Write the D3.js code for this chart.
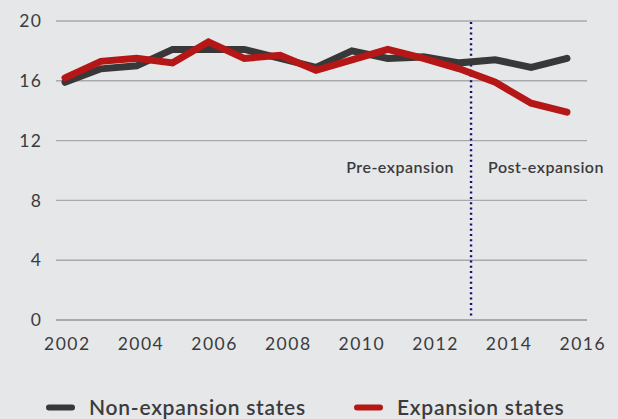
<!DOCTYPE html>
<html>
<head>
<meta charset="utf-8">
<script src="https://cdn.jsdelivr.net/npm/d3@7"></script>
<style>
  html, body { margin: 0; padding: 0; background: #e6e7e8; }
  svg { display: block; font-family: Lato, "Noto Sans", sans-serif; }
</style>
</head>
<body>
<svg id="chart" width="618" height="419"></svg>
<script>
"use strict";

var years = [2002, 2003, 2004, 2005, 2006, 2007, 2008, 2009, 2010, 2011, 2012, 2013, 2014, 2015, 2016];
var nonExpansion = [15.9, 16.8, 17.0, 18.1, 18.1, 18.1, 17.5, 16.9, 18.0, 17.5, 17.6, 17.2, 17.4, 16.9, 17.5];
var expansion = [16.2, 17.3, 17.5, 17.2, 18.6, 17.5, 17.7, 16.7, 17.4, 18.1, 17.5, 16.8, 15.9, 14.5, 13.9];
var yTicks = [0, 4, 8, 12, 16, 20];
var xTicks = [2002, 2004, 2006, 2008, 2010, 2012, 2014, 2016];
var expansionYear = 2013;
var series = [
  { name: "Non-expansion states", values: nonExpansion, color: "#383838" },
  { name: "Expansion states", values: expansion, color: "#b51616" },
];

var svg = d3.select("#chart");
var textColor = "#3b3b3d";

// scales: the labels sit on a slightly wider span than the plotted points
var xAxisScale = d3.scaleLinear().domain([2002, 2016]).range([66, 581.5]);
var xData = d3.scalePoint().domain(years).range([65, 567]);
var y = d3.scaleLinear().domain([0, 20]).range([320, 21]);

// grid lines
svg
  .append("g")
  .selectAll("line")
  .data(yTicks)
  .enter()
  .append("line")
  .attr("x1", 56)
  .attr("x2", 587)
  .attr("y1", function (d) { return y(d); })
  .attr("y2", function (d) { return y(d); })
  .attr("stroke", "#a7a9ac")
  .attr("stroke-width", function (d) { return d === 0 ? 2 : 1.4; });

// y axis labels
var yAxis = svg
  .append("g")
  .attr("transform", "translate(42.5,0)")
  .call(d3.axisLeft(y).tickValues(yTicks).tickSize(0).tickPadding(0));
yAxis.select(".domain").remove();
yAxis
  .selectAll("text")
  .attr("fill", textColor)
  .style("font-size", "17.5px")
  .style("letter-spacing", "1.5px")
  .style("font-family", "Lato, sans-serif");

// x axis labels
var xAxis = svg
  .append("g")
  .attr("transform", "translate(0.8,338)")
  .call(d3.axisBottom(xAxisScale).tickValues(xTicks).tickFormat(d3.format("d")).tickSize(0).tickPadding(0));
xAxis.select(".domain").remove();
xAxis
  .selectAll("text")
  .attr("fill", textColor)
  .style("font-size", "17.5px")
  .style("letter-spacing", "1.5px")
  .style("font-family", "Lato, sans-serif");

// expansion marker
var xe = xAxisScale(expansionYear);
svg
  .append("line")
  .attr("x1", xe)
  .attr("x2", xe)
  .attr("y1", y(20) + 1)
  .attr("y2", y(0) - 3)
  .attr("stroke", "#10106e")
  .attr("stroke-width", 2.4)
  .attr("stroke-dasharray", "2 3.3");

svg
  .append("text")
  .attr("x", xe - 17)
  .attr("y", 173)
  .attr("text-anchor", "end")
  .attr("fill", textColor)
  .style("font-size", "16px")
  .style("letter-spacing", "0.5px")
  .style("font-weight", "600")
  .text("Pre-expansion");

svg
  .append("text")
  .attr("x", xe + 17)
  .attr("y", 173)
  .attr("fill", textColor)
  .style("font-size", "16px")
  .style("letter-spacing", "0.5px")
  .style("font-weight", "600")
  .text("Post-expansion");

// lines
var line = d3
  .line()
  .x(function (d, i) { return xData(years[i]); })
  .y(function (d) { return y(d); });

svg
  .append("g")
  .selectAll("path")
  .data(series)
  .enter()
  .append("path")
  .attr("d", function (d) { return line(d.values); })
  .attr("fill", "none")
  .attr("stroke", function (d) { return d.color; })
  .attr("stroke-width", 7)
  .attr("stroke-linejoin", "miter")
  .attr("stroke-linecap", "round");

// legend
var legendX = [47, 355];
var legend = svg
  .append("g")
  .selectAll("g")
  .data(series)
  .enter()
  .append("g")
  .attr("transform", function (d, i) { return "translate(" + legendX[i] + ",407.5)"; });

legend
  .append("line")
  .attr("x1", 2)
  .attr("x2", 25)
  .attr("stroke", function (d) { return d.color; })
  .attr("stroke-width", 6)
  .attr("stroke-linecap", "round");

legend
  .append("text")
  .attr("x", 42)
  .attr("y", 7.5)
  .attr("fill", textColor)
  .style("font-size", "21px")
  .style("letter-spacing", "0.75px")
  .style("font-weight", "600")
  .text(function (d) { return d.name; });
</script>
</body>
</html>
